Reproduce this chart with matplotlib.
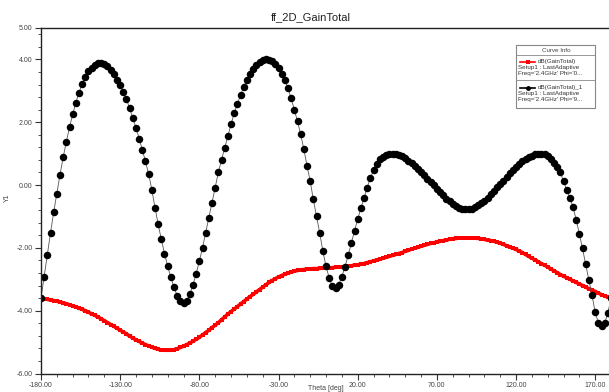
import matplotlib.pyplot as plt
import numpy as np
from matplotlib.ticker import MultipleLocator, FormatStrFormatter
from matplotlib.patches import Rectangle
from matplotlib.lines import Line2D

# theta sweep, 2 degree steps
theta = np.arange(-180, 181, 2)

gain_phi0 = [
    -3.60, -3.62, -3.64, -3.66, -3.68, -3.70, -3.72, -3.75, -3.78, -3.81,
    -3.85, -3.88, -3.92, -3.96, -4.00, -4.05, -4.10, -4.15, -4.20, -4.26,
    -4.32, -4.38, -4.44, -4.50, -4.56, -4.62, -4.68, -4.74, -4.81, -4.87,
    -4.93, -4.98, -5.03, -5.08, -5.12, -5.16, -5.20, -5.23, -5.25, -5.26,
    -5.26, -5.26, -5.24, -5.21, -5.17, -5.13, -5.08, -5.03, -4.97, -4.91,
    -4.85, -4.77, -4.70, -4.62, -4.54, -4.46, -4.38, -4.29, -4.20, -4.11,
    -4.03, -3.95, -3.87, -3.79, -3.71, -3.63, -3.55, -3.48, -3.40, -3.33,
    -3.25, -3.18, -3.10, -3.04, -2.98, -2.93, -2.88, -2.84, -2.80, -2.77,
    -2.74, -2.72, -2.70, -2.69, -2.68, -2.67, -2.66, -2.66, -2.65, -2.65,
    -2.64, -2.64, -2.63, -2.62, -2.61, -2.61, -2.60, -2.58, -2.57, -2.55,
    -2.54, -2.52, -2.50, -2.47, -2.44, -2.42, -2.39, -2.36, -2.33, -2.30,
    -2.27, -2.24, -2.21, -2.18, -2.15, -2.11, -2.08, -2.04, -2.01, -1.98,
    -1.95, -1.92, -1.89, -1.86, -1.84, -1.81, -1.79, -1.77, -1.75, -1.73,
    -1.71, -1.70, -1.69, -1.68, -1.68, -1.68, -1.68, -1.69, -1.70, -1.71,
    -1.73, -1.75, -1.77, -1.79, -1.82, -1.85, -1.89, -1.93, -1.97, -2.01,
    -2.05, -2.10, -2.15, -2.21, -2.27, -2.33, -2.38, -2.44, -2.50, -2.55,
    -2.61, -2.67, -2.73, -2.79, -2.85, -2.90, -2.95, -3.00, -3.05, -3.10,
    -3.15, -3.20, -3.25, -3.30, -3.34, -3.39, -3.44, -3.49, -3.53, -3.57,
    -3.60,
]

gain_phi90 = [
    -3.60, -2.92, -2.22, -1.52, -0.87, -0.27, 0.33, 0.88, 1.38, 1.84,
    2.25, 2.62, 2.94, 3.22, 3.45, 3.62, 3.74, 3.82, 3.87, 3.88,
    3.85, 3.78, 3.67, 3.53, 3.36, 3.17, 2.97, 2.73, 2.44, 2.13,
    1.82, 1.48, 1.12, 0.75, 0.35, -0.15, -0.72, -1.25, -1.73, -2.18,
    -2.58, -2.94, -3.26, -3.52, -3.69, -3.76, -3.68, -3.48, -3.18, -2.82,
    -2.43, -2.00, -1.52, -1.05, -0.57, -0.08, 0.40, 0.80, 1.18, 1.55,
    1.93, 2.28, 2.59, 2.86, 3.12, 3.34, 3.54, 3.70, 3.82, 3.91,
    3.97, 4.00, 3.99, 3.94, 3.85, 3.72, 3.55, 3.35, 3.08, 2.76,
    2.40, 2.03, 1.62, 1.14, 0.62, 0.13, -0.46, -0.99, -1.52, -2.10,
    -2.58, -2.96, -3.22, -3.29, -3.17, -2.92, -2.60, -2.24, -1.85, -1.46,
    -1.09, -0.74, -0.42, -0.08, 0.22, 0.47, 0.68, 0.82, 0.90, 0.95,
    0.98, 1.00, 0.99, 0.96, 0.91, 0.85, 0.78, 0.70, 0.62, 0.52,
    0.42, 0.31, 0.20, 0.10, -0.01, -0.12, -0.23, -0.33, -0.43, -0.52,
    -0.60, -0.67, -0.72, -0.75, -0.77, -0.77, -0.75, -0.71, -0.65, -0.58,
    -0.50, -0.40, -0.29, -0.18, -0.07, 0.03, 0.14, 0.26, 0.37, 0.48,
    0.57, 0.66, 0.75, 0.82, 0.89, 0.94, 0.98, 1.00, 1.00, 0.98,
    0.92, 0.82, 0.70, 0.56, 0.40, 0.12, -0.15, -0.40, -0.70, -1.10,
    -1.55, -2.02, -2.52, -3.02, -3.50, -4.05, -4.38, -4.50, -4.40, -4.08,
    -3.60,
]

legend_lines = [
    ("dB(GainTotal)", "Setup1 : LastAdaptive", "Freq='2.4GHz' Phi='0..."),
    ("dB(GainTotal)_1", "Setup1 : LastAdaptive", "Freq='2.4GHz' Phi='9..."),
]

plt.rcParams['font.family'] = ['Liberation Sans', 'DejaVu Sans']

W, H = 609, 392
fig = plt.figure(figsize=(W / 100, H / 100), dpi=100)

def fx(px):
    return px / W

def fy(py):
    return 1 - py / H

# axes run past the right edge of the picture (the screenshot is cropped)
ax = fig.add_axes([fx(41), fy(373.5), (611 - 41) / W, (373.5 - 28) / H])

ax.plot(theta, gain_phi0, '-s', color='red', lw=2.6, markersize=3.4, markeredgewidth=0)
ax.plot(theta, gain_phi90, '-o', color='#555555', lw=0.6, markersize=5.4,
        markerfacecolor='black', markeredgecolor='black', markeredgewidth=0)

ax.set_xlim(-180, 180)
ax.set_ylim(-6, 5)
ax.set_xticks([-180, -130, -80, -30, 20, 70, 120, 170])
ax.xaxis.set_minor_locator(MultipleLocator(10))
ax.set_yticks([-6, -4, -2, 0, 2, 4, 5])
ax.yaxis.set_minor_locator(MultipleLocator(0.4))
ax.xaxis.set_major_formatter(FormatStrFormatter('%.2f'))
ax.yaxis.set_major_formatter(FormatStrFormatter('%.2f'))
ax.tick_params(which='major', direction='out', length=4, width=0.8, labelsize=5,
               labelcolor='#444444', color='#333333', pad=2)
ax.tick_params(which='minor', direction='out', length=2.5, width=0.6, color='#333333')

for s in ['left', 'top', 'bottom']:
    ax.spines[s].set_linewidth(1.0)
    ax.spines[s].set_color('#222222')
ax.spines['right'].set_visible(False)

fig.text(fx(311), fy(17), "ff_2D_GainTotal", ha='center', va='center', fontsize=8, color='#222222')
fig.text(fx(7), fy(198), "Y1", rotation=90, ha='center', va='center', fontsize=5, color='#444444')
fig.text(fx(326), fy(388.5), "Theta [deg]", ha='center', va='center', fontsize=5, color='#444444')

# curve info box
fig.add_artist(Rectangle((fx(516), fy(108)), (595 - 516) / W, (108 - 45) / H,
                         transform=fig.transFigure, fill=False, ec='#888888', lw=0.8))
fig.text(fx(556), fy(50), "Curve Info", ha='center', va='center', fontsize=4.5, color='#444444')
for ysep in [55, 80]:
    fig.add_artist(Line2D([fx(516), fx(595)], [fy(ysep), fy(ysep)], transform=fig.transFigure,
                          color='#888888', lw=0.6))

entries = [('red', 's', 61.7), ('black', 'o', 87.5)]
for (col, mk, yy), (name, setup, freq) in zip(entries, legend_lines):
    fig.add_artist(Line2D([fx(520), fx(535)], [fy(yy), fy(yy)], transform=fig.transFigure,
                          color=col, lw=1.2))
    fig.add_artist(Line2D([fx(527.5)], [fy(yy)], transform=fig.transFigure, color=col,
                          marker=mk, markersize=3.5, markeredgewidth=0))
    fig.text(fx(538), fy(yy), name, ha='left', va='center', fontsize=4.5, color='#333333')
    fig.text(fx(518), fy(yy + 5.5), setup, ha='left', va='center', fontsize=4.5, color='#333333')
    fig.text(fx(518), fy(yy + 11.5), freq, ha='left', va='center', fontsize=4.5, color='#333333')

fig.savefig("out.png", dpi=100)
